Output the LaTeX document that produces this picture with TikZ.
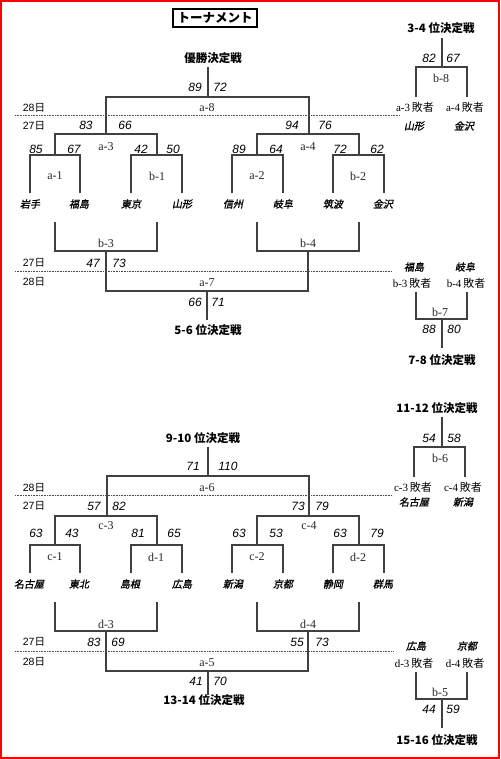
\documentclass[tikz,border=0pt]{standalone}
\usepackage{fontspec}
\setmainfont{Liberation Serif}
\newfontfamily\jp{Noto Sans CJK JP}
\newfontfamily\jpit[FakeSlant=0.2,FakeBold=1.2]{Noto Sans CJK JP}
\newfontfamily\lsans{Liberation Sans}
\begin{document}
\begin{tikzpicture}[x=1pt,y=-1pt,
  br/.style={draw=black!75, line width=1.2pt},
  dotl/.style={draw=black!70, line width=0.8pt, dash pattern=on 0.8pt off 0.8pt},
  sc/.style={inner sep=0, font={\lsans\itshape\fontsize{12}{12}\selectfont}},
  tm/.style={inner sep=0, font={\jpit\fontsize{10}{10}\selectfont}},
  lb/.style={inner sep=0, text=black!85, font={\fontsize{12}{12}\selectfont}},
  los/.style={inner sep=0, font={\fontsize{11}{11}\selectfont}},
  dy/.style={inner sep=0, font={\lsans\fontsize{10.5}{10.5}\selectfont}},
  ttl/.style={inner sep=0, font={\jp\bfseries\fontsize{11.5}{11.5}\selectfont}},
  tbox/.style={draw=black, line width=1.1pt, minimum width=84pt, minimum height=18pt, inner sep=0, font={\jp\bfseries\fontsize{12.5}{12.5}\selectfont}}
]
\useasboundingbox (0,0) rectangle (500,759);
\draw[red, line width=2pt] (1,1) rectangle (499,758);

% ---------------- top section ----------------
\node[tbox] (title) at (215,18) {トーナメント};
\node[ttl] (win) at (213,58) {優勝決定戦};
\node[sc] (s1) at (195,87) {89};
\node[sc] (s2) at (220,87) {72};
\node[lb] (a8) at (207,108) {a-8};
\node[dy] (d1) at (34,108) {28{\jp 日}};
\node[dy] (d2) at (34,126) {27{\jp 日}};
\node[sc] (s3) at (86,125) {83};
\node[sc] (s4) at (125,125) {66};
\node[sc] (s5) at (292,125) {94};
\node[sc] (s6) at (325,125) {76};
\node[lb] (a3) at (106,147) {a-3};
\node[lb] (a4) at (308,147) {a-4};
\node[sc] (s7) at (36,149.5) {85};
\node[sc] (s8) at (74,149.5) {67};
\node[sc] (s9) at (141,149.5) {42};
\node[sc] (s10) at (173,149.5) {50};
\node[sc] (s11) at (239,149.5) {89};
\node[sc] (s12) at (276,149.5) {64};
\node[sc] (s13) at (340,149.5) {72};
\node[sc] (s14) at (377,149.5) {62};
\node[lb] (a1) at (55,176) {a-1};
\node[lb] (b1) at (157,176) {b-1};
\node[lb] (a2) at (257,176) {a-2};
\node[lb] (b2) at (358,176) {b-2};
\node[tm] (t1) at (30,204) {岩手};
\node[tm] (t2) at (79,204) {福島};
\node[tm] (t3) at (131,204) {東京};
\node[tm] (t4) at (182,204) {山形};
\node[tm] (t5) at (233,204) {信州};
\node[tm] (t6) at (283,204) {岐阜};
\node[tm] (t7) at (333,204) {筑波};
\node[tm] (t8) at (383,204) {金沢};
\node[lb] (b3) at (106,243) {b-3};
\node[lb] (b4) at (308,243) {b-4};
\node[dy] (d3) at (34,263) {27{\jp 日}};
\node[dy] (d4) at (34,282) {28{\jp 日}};
\node[sc] (s15) at (93,263) {47};
\node[sc] (s16) at (119,263) {73};
\node[lb] (a7) at (207,283) {a-7};
\node[sc] (s17) at (195,302) {66};
\node[sc] (s18) at (218,302) {71};
\node[ttl] (p56) at (208,330) {5-6 位決定戦};

% brackets top
\draw[br] (208,67) -- (208,97);
\draw[br] (106,134) -- (106,97) -- (309,97) -- (309,134);
\draw[br] (55,155) -- (55,134) -- (157,134) -- (157,155);
\draw[br] (257,155) -- (257,134) -- (359,134) -- (359,155);
\draw[br] (30,193) -- (30,155) -- (80,155) -- (80,193);
\draw[br] (131,193) -- (131,155) -- (182,155) -- (182,193);
\draw[br] (232,193) -- (232,155) -- (283,155) -- (283,193);
\draw[br] (333,193) -- (333,155) -- (384,155) -- (384,193);
\draw[br] (55,222) -- (55,251) -- (157,251) -- (157,222);
\draw[br] (257,222) -- (257,251) -- (359,251) -- (359,222);
\draw[br] (106,251) -- (106,291) -- (308,291) -- (308,251);
\draw[br] (207,291) -- (207,320);
\draw[dotl] (15,115) -- (400,115);
\draw[dotl] (15,271) -- (392,271);

% 3-4
\node[ttl] (p34) at (441,28) {3-4 位決定戦};
\node[sc] (s19) at (429,58) {82};
\node[sc] (s20) at (453,58) {67};
\node[lb] (b8) at (441,78) {b-8};
\node[los] (l1) at (415,107) {a-3\,{\jp 敗者}};
\node[los] (l2) at (465,107) {a-4\,{\jp 敗者}};
\node[tm] (t9) at (414,126) {山形};
\node[tm] (t10) at (464,126) {金沢};
\draw[br] (442,38) -- (442,67);
\draw[br] (416,97) -- (416,67) -- (467,67) -- (467,97);

% 7-8
\node[tm] (t11) at (414,267) {福島};
\node[tm] (t12) at (465,267) {岐阜};
\node[los] (l3) at (412,283) {b-3\,{\jp 敗者}};
\node[los] (l4) at (466,283) {b-4\,{\jp 敗者}};
\node[lb] (b7) at (440,312) {b-7};
\node[sc] (s21) at (429,329) {88};
\node[sc] (s22) at (454,329) {80};
\node[ttl] (p78) at (442,360) {7-8 位決定戦};
\draw[br] (416,292) -- (416,319) -- (467,319) -- (467,292);
\draw[br] (442,319) -- (442,348);

% ---------------- bottom section ----------------
\node[ttl] (p910) at (203,438) {9-10 位決定戦};
\node[sc] (s23) at (193,466) {71};
\node[sc] (s24) at (228,466) {110};
\node[lb] (a6) at (207,488) {a-6};
\node[dy] (d5) at (34,488) {28{\jp 日}};
\node[dy] (d6) at (34,506) {27{\jp 日}};
\node[sc] (s25) at (94,506) {57};
\node[sc] (s26) at (119,506) {82};
\node[sc] (s27) at (298,506) {73};
\node[sc] (s28) at (322,506) {79};
\node[lb] (c3) at (106,526) {c-3};
\node[lb] (c4) at (309,526) {c-4};
\node[sc] (s29) at (36,533) {63};
\node[sc] (s30) at (72,533) {43};
\node[sc] (s31) at (138,533) {81};
\node[sc] (s32) at (174,533) {65};
\node[sc] (s33) at (239,533) {63};
\node[sc] (s34) at (276,533) {53};
\node[sc] (s35) at (340,533) {63};
\node[sc] (s36) at (377,533) {79};
\node[lb] (c1) at (55,557) {c-1};
\node[lb] (dd1) at (156,557) {d-1};
\node[lb] (c2) at (257,557) {c-2};
\node[lb] (dd2) at (358,557) {d-2};
\node[tm] (t13) at (29,584) {名古屋};
\node[tm] (t14) at (79,584) {東北};
\node[tm] (t15) at (130,584) {島根};
\node[tm] (t16) at (182,584) {広島};
\node[tm] (t17) at (233,584) {新潟};
\node[tm] (t18) at (283,584) {京都};
\node[tm] (t19) at (333,584) {静岡};
\node[tm] (t20) at (383,584) {群馬};
\node[lb] (dd3) at (106,624) {d-3};
\node[lb] (dd4) at (308,624) {d-4};
\node[dy] (d7) at (34,642) {27{\jp 日}};
\node[dy] (d8) at (34,662) {28{\jp 日}};
\node[sc] (s37) at (94,642) {83};
\node[sc] (s38) at (118,642) {69};
\node[sc] (s39) at (297,642) {55};
\node[sc] (s40) at (322,642) {73};
\node[lb] (a5) at (207,663) {a-5};
\node[sc] (s41) at (196,681) {41};
\node[sc] (s42) at (220,681) {70};
\node[ttl] (p1314) at (204,700) {13-14 位決定戦};

\draw[br] (208,447) -- (208,476);
\draw[br] (107,516) -- (107,476) -- (309,476) -- (309,516);
\draw[br] (55,545) -- (55,516) -- (157,516) -- (157,545);
\draw[br] (257,545) -- (257,516) -- (359,516) -- (359,545);
\draw[br] (30,573) -- (30,545) -- (80,545) -- (80,573);
\draw[br] (131,573) -- (131,545) -- (182,545) -- (182,573);
\draw[br] (232,573) -- (232,545) -- (283,545) -- (283,573);
\draw[br] (333,573) -- (333,545) -- (384,545) -- (384,573);
\draw[br] (55,602) -- (55,631) -- (157,631) -- (157,602);
\draw[br] (257,602) -- (257,631) -- (359,631) -- (359,602);
\draw[br] (106,631) -- (106,671) -- (308,671) -- (308,631);
\draw[br] (208,671) -- (208,695);
\draw[dotl] (15,495) -- (392,495);
\draw[dotl] (15,651) -- (394,651);

% 11-12
\node[ttl] (p1112) at (437,408) {11-12 位決定戦};
\node[sc] (s43) at (429,438) {54};
\node[sc] (s44) at (454,438) {58};
\node[lb] (b6) at (440,458) {b-6};
\node[los] (l5) at (413,487) {c-3\,{\jp 敗者}};
\node[los] (l6) at (463,487) {c-4\,{\jp 敗者}};
\node[tm] (t21) at (414,502) {名古屋};
\node[tm] (t22) at (463,502) {新潟};
\draw[br] (442,417) -- (442,447);
\draw[br] (414,477) -- (414,447) -- (465,447) -- (465,477);

% 15-16
\node[tm] (t23) at (416,646) {広島};
\node[tm] (t24) at (467,646) {京都};
\node[los] (l7) at (414,663) {d-3\,{\jp 敗者}};
\node[los] (l8) at (465,663) {d-4\,{\jp 敗者}};
\node[lb] (b5) at (440,692) {b-5};
\node[sc] (s45) at (429,709) {44};
\node[sc] (s46) at (453,709) {59};
\node[ttl] (p1516) at (437,740) {15-16 位決定戦};
\draw[br] (416,672) -- (416,699) -- (467,699) -- (467,672);
\draw[br] (442,699) -- (442,728);
\end{tikzpicture}
\end{document}
